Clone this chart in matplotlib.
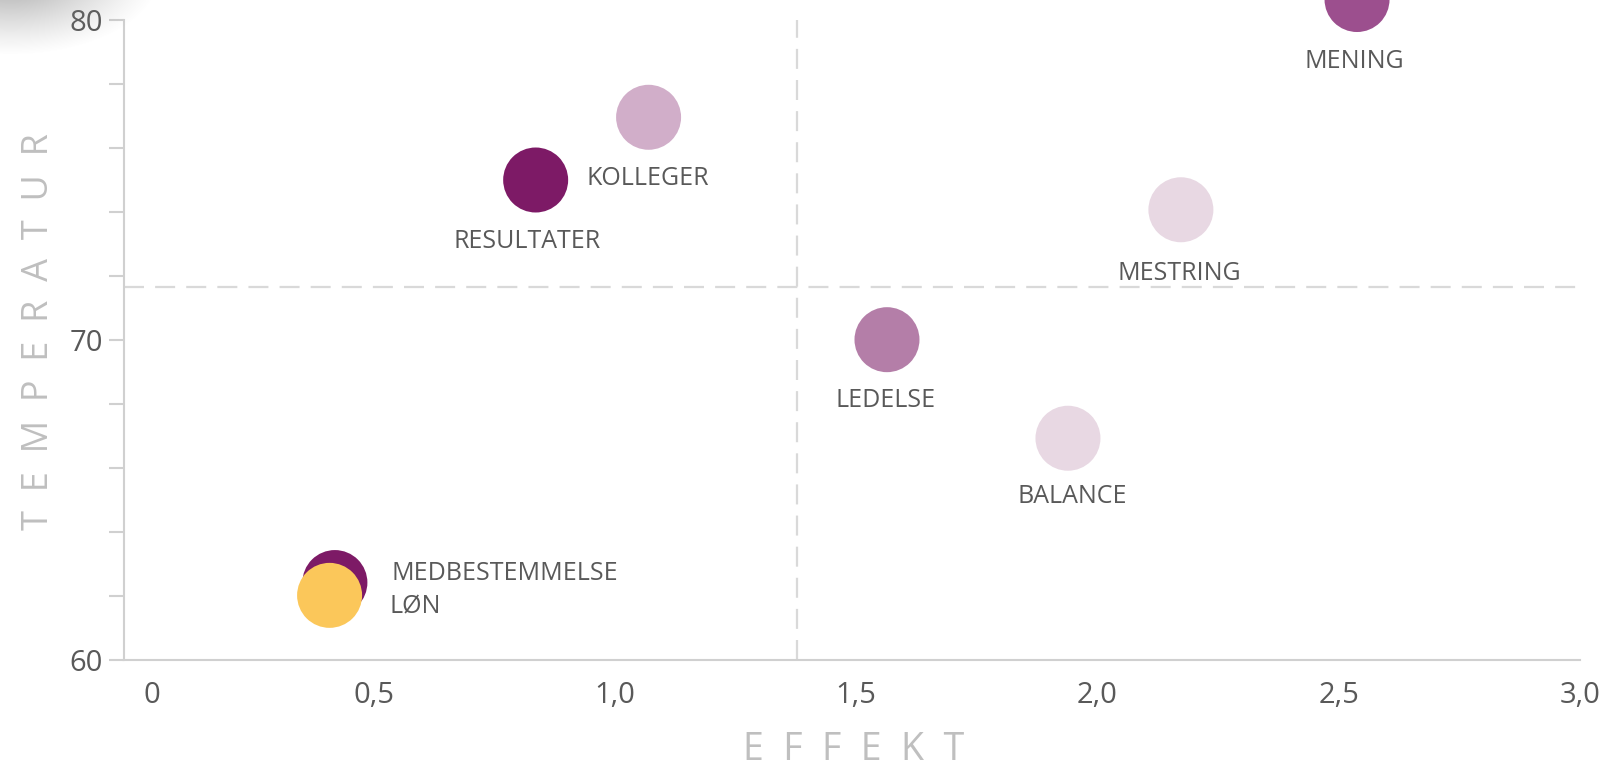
import matplotlib
matplotlib.use('Agg')
import matplotlib.pyplot as plt
import matplotlib.transforms as mtransforms
import numpy as np

plt.rcParams['font.family'] = ['Open Sans', 'DejaVu Sans']

# data
names = ['MENING', 'KOLLEGER', 'RESULTATER', 'MESTRING', 'LEDELSE',
         'BALANCE', 'MEDBESTEMMELSE', 'LØN']
effekt = [2.538, 1.070, 0.836, 2.173, 1.564, 1.939, 0.420, 0.409]
temperatur = [80.64, 76.96, 75.00, 74.07, 70.01, 66.93, 62.42, 62.02]
colors = ['#9c4f8e', '#d1aec9', '#7d1a66', '#e8d8e3', '#b47ea8',
          '#e8d8e3', '#7d1a66', '#fbc75a']
# label offsets in pixels (dx, dy) and alignment
label_off = [(-3, -62, 'center'), (-62, -61, 'left'), (-9, -62, 'center'),
             (-2, -64, 'center'), (-1, -61, 'center'), (4, -58, 'center'),
             (57, 9, 'left'), (60, -12, 'left')]

xticks = [0, 0.5, 1.0, 1.5, 2.0, 2.5, 3.0]
xticklabels = ['0', '0,5', '1,0', '1,5', '2,0', '2,5', '3,0']
yticks = np.arange(60, 81, 2)
ylabels = ['60', '', '', '', '', '70', '', '', '', '', '80']

avg_x = 1.378
avg_y = 71.67

W, H = 1603, 770
fig = plt.figure(figsize=(W / 100, H / 100), dpi=100)
ax = fig.add_axes([124 / W, 110 / H, (1580 - 124) / W, (660 - 20) / H])

# corner smudge
sm = fig.add_axes([0, 1 - 120 / H, 260 / W, 120 / H])
yy, xx = np.mgrid[0:120, 0:260]
d = np.sqrt(((xx - 10) / 150.0) ** 2 + ((yy + 25) / 80.0) ** 2)
alpha = np.clip(1 - d, 0, 1) ** 1.2 * 0.7
img = np.zeros((120, 260, 4))
img[..., :3] = 0.5
img[..., 3] = alpha
sm.imshow(img, aspect='auto', interpolation='bilinear')
sm.axis('off')

ax.axvline(avg_x, color='#d9d9d9', lw=1.6, dashes=(9, 5), zorder=1)
ax.axhline(avg_y, color='#d9d9d9', lw=1.6, dashes=(9, 5), zorder=1)

for i in range(len(names)):
    ax.scatter(effekt[i], temperatur[i], s=2190, color=colors[i],
               edgecolors='none', zorder=3, clip_on=False)
    dx, dy, ha = label_off[i]
    ax.annotate(names[i], (effekt[i], temperatur[i]), xytext=(dx, dy),
                textcoords='offset pixels', ha=ha, va='center',
                fontsize=18, color='#595959', zorder=4,
                annotation_clip=False)

ax.set_xlim(-0.017, 3.0)
ax.set_ylim(60, 80)

for s in ['top', 'right']:
    ax.spines[s].set_visible(False)
for s in ['left', 'bottom']:
    ax.spines[s].set_color('#d0d0d0')
    ax.spines[s].set_linewidth(1.5)

ax.set_xticks(xticks)
ax.set_xticklabels(xticklabels, fontsize=21, color='#595959')
ax.tick_params(axis='x', length=0, pad=15)
ax.set_yticks(yticks)
ax.set_yticklabels(ylabels, fontsize=21, color='#595959')
ax.tick_params(axis='y', length=11, width=1.5, color='#d0d0d0', pad=4)

# the "0" label sits a bit to the right in the original
lab0 = ax.get_xticklabels()[0]
lab0.set_transform(lab0.get_transform() +
                   mtransforms.ScaledTranslation(20 / 100, 0, fig.dpi_scale_trans))

fig.text(854 / W, 1 - 750 / H, 'E  F  F  E  K  T', fontsize=27,
         color='#bfbfbf', ha='center', va='center')
fig.text(39 / W, 1 - 332 / H, 'T  E  M  P  E  R  A  T  U  R', fontsize=26,
         color='#bfbfbf', ha='center', va='center', rotation=90)

fig.savefig('out.png', dpi=100, facecolor='white')
